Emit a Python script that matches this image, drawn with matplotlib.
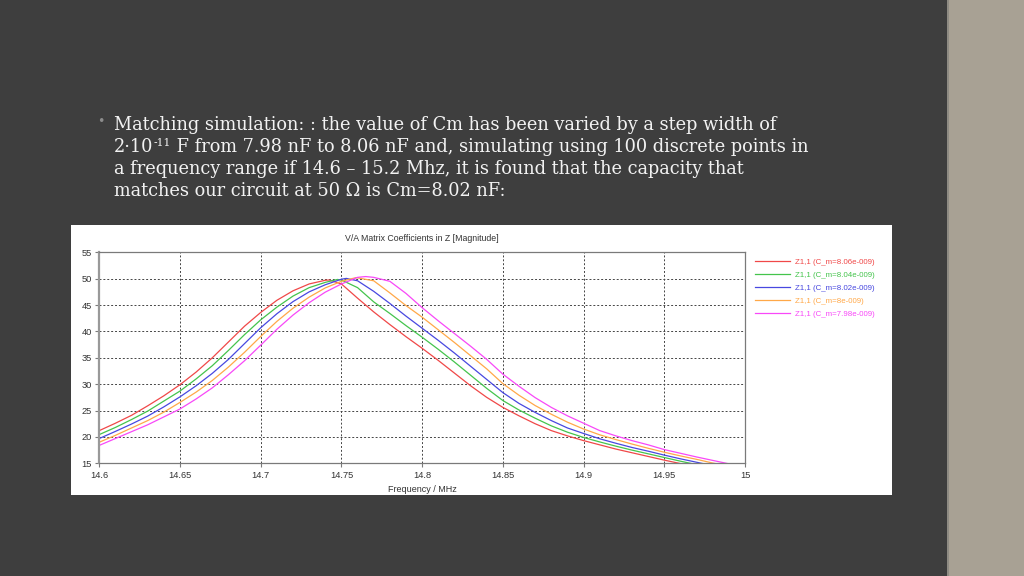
import numpy as np
import matplotlib.pyplot as plt
from matplotlib.patches import Rectangle

# frequency grid (MHz) the curves were read at
freq = [14.60, 14.61, 14.62, 14.63, 14.64, 14.65, 14.66, 14.67, 14.68, 14.69,
        14.70, 14.71, 14.72, 14.73, 14.74, 14.75, 14.76, 14.77, 14.78, 14.79,
        14.80, 14.81, 14.82, 14.83, 14.84, 14.85, 14.86, 14.87, 14.88, 14.89,
        14.90, 14.91, 14.92, 14.93, 14.94, 14.95, 14.96, 14.97, 14.98, 14.99, 15.00]

z_806 = [21.2, 22.6, 24.1, 25.9, 27.8, 29.9, 32.3, 35.0, 38.0, 41.0,
         43.6, 45.9, 47.7, 49.0, 49.7, 49.0, 46.3, 43.7, 41.3, 39.0,
         36.8, 34.5, 32.1, 29.7, 27.5, 25.6, 24.0, 22.5, 21.2, 20.2,
         19.3, 18.5, 17.7, 17.0, 16.3, 15.6, 14.95, 14.3, 13.8, 13.3, 12.8]
z_804 = [20.45, 21.8, 23.3, 24.9, 26.8, 28.7, 31.0, 33.5, 36.4, 39.4,
         42.2, 44.6, 46.7, 48.3, 49.3, 49.75, 48.3, 45.6, 43.4, 41.1,
         38.9, 36.6, 34.2, 31.7, 29.2, 26.9, 25.1, 23.55, 22.1, 20.9,
         19.9, 19.05, 18.25, 17.5, 16.8, 16.1, 15.4, 14.75, 14.15, 13.65, 13.15]
z_802 = [19.7, 21.05, 22.45, 23.95, 25.7, 27.6, 29.7, 32.05, 34.7, 37.7,
         40.7, 43.35, 45.65, 47.5, 48.85, 49.9, 49.6, 47.6, 45.3, 42.9,
         40.6, 38.3, 35.9, 33.4, 30.9, 28.4, 26.35, 24.65, 23.1, 21.7,
         20.65, 19.65, 18.8, 18.0, 17.3, 16.55, 15.85, 15.2, 14.55, 14.0, 13.5]
z_800 = [19.0, 20.3, 21.7, 23.1, 24.7, 26.55, 28.5, 30.7, 33.25, 36.05,
         39.05, 41.9, 44.4, 46.5, 48.25, 49.5, 50.15, 49.6, 47.3, 44.9,
         42.7, 40.3, 37.9, 35.4, 32.9, 30.1, 27.9, 25.95, 24.3, 22.8,
         21.5, 20.4, 19.5, 18.65, 17.85, 17.1, 16.4, 15.75, 15.05, 14.45, 13.9]
z_798 = [18.4, 19.7, 21.0, 22.3, 23.8, 25.3, 27.2, 29.3, 31.8, 34.45,
         37.4, 40.4, 43.1, 45.45, 47.45, 49.0, 50.25, 50.25, 49.5, 47.2,
         44.5, 42.0, 39.6, 37.2, 34.7, 31.9, 29.6, 27.45, 25.6, 24.0,
         22.6, 21.2, 20.2, 19.3, 18.5, 17.6, 16.9, 16.2, 15.55, 14.9, 14.3]

# resonance peaks (frequency, magnitude), one per curve
peak_f = [14.7425, 14.7475, 14.753, 14.759, 14.765]
peak_v = [49.75, 49.85, 50.05, 50.2, 50.4]

labels = ['Z1,1 (C_m=8.06e-009)', 'Z1,1 (C_m=8.04e-009)', 'Z1,1 (C_m=8.02e-009)',
          'Z1,1 (C_m=8e-009)', 'Z1,1 (C_m=7.98e-009)']
colors = ['#f04848', '#44c44c', '#4848e0', '#ffa848', '#f848f8']

xticks = [14.6, 14.65, 14.7, 14.75, 14.8, 14.85, 14.9, 14.95, 15.0]
xticklabels = ['14.6', '14.65', '14.7', '14.75', '14.8', '14.85', '14.9', '14.95', '15']
yticks = [15, 20, 25, 30, 35, 40, 45, 50, 55]

line1 = 'Matching simulation: : the value of Cm has been varied by a step width of'
line2_a = '2\u00b710'
line2_sup = '-11'
line2_b = ' F from 7.98 nF to 8.06 nF and, simulating using 100 discrete points in'
line3 = 'a frequency range if 14.6 \u2013 15.2 Mhz, it is found that the capacity that'
line4 = 'matches our circuit at 50 \u03a9 is Cm=8.02 nF:'

W, H = 1024, 576
fig = plt.figure(figsize=(W / 100, H / 100), dpi=100, facecolor='#3e3e3e')
renderer = fig.canvas.get_renderer()

# side strip of the slide
fig.add_artist(Rectangle((948 / W, 0), 1 - 948 / W, 1, transform=fig.transFigure,
                         facecolor='#a8a194', edgecolor='none', zorder=-2))
fig.add_artist(Rectangle((947 / W, 0), 1.5 / W, 1, transform=fig.transFigure,
                         facecolor='#8e8b83', edgecolor='none', zorder=-2))
# white chart background
fig.add_artist(Rectangle((71 / W, 1 - 495 / H), 821 / W, 270 / H, transform=fig.transFigure,
                         facecolor='white', edgecolor='none', zorder=-1))

# bullet text, sized so the first line spans the same width as the slide
serif = 'DejaVu Serif'
tc = '#f2f2f2'
x0 = 114
probe = fig.text(0, 0, line1, family=serif, fontsize=12)
fs = 12 * 661 / probe.get_window_extent(renderer).width
probe.remove()

fig.text(101 / W, 1 - 121.5 / H, '\u2022', color='#8c8c8c', fontsize=9,
         va='center', ha='center')
baselines = [129.5, 151.7, 173.9, 196.1]
fig.text(x0 / W, 1 - baselines[0] / H, line1, color=tc, fontsize=fs, family=serif, va='baseline')
t = fig.text(x0 / W, 1 - baselines[1] / H, line2_a, color=tc, fontsize=fs, family=serif, va='baseline')
xa = x0 + t.get_window_extent(renderer).width + 0.5
t = fig.text(xa / W, 1 - (baselines[1] - 6) / H, line2_sup, color=tc, fontsize=fs * 0.6,
             family=serif, va='baseline')
xb = xa + t.get_window_extent(renderer).width
fig.text(xb / W, 1 - baselines[1] / H, line2_b, color=tc, fontsize=fs, family=serif, va='baseline')
fig.text(x0 / W, 1 - baselines[2] / H, line3, color=tc, fontsize=fs, family=serif, va='baseline')
fig.text(x0 / W, 1 - baselines[3] / H, line4, color=tc, fontsize=fs, family=serif, va='baseline')

ax = fig.add_axes([99.3 / W, 1 - 463.3 / H, 645.7 / W, 211 / H])
ax.set_facecolor('white')

series = [z_806, z_804, z_802, z_800, z_798]
for vals, pf, pv, c, lab in zip(series, peak_f, peak_v, colors, labels):
    f = np.array(freq)
    v = np.array(vals)
    i = np.searchsorted(f, pf)
    f = np.insert(f, i, pf)
    v = np.insert(v, i, pv)
    ax.plot(f, v, color=c, lw=0.9, label=lab)

sans = 'Liberation Sans'
ax.set_xlim(14.6, 15.0)
ax.set_ylim(15, 55)
ax.set_xticks(xticks)
ax.set_xticklabels(xticklabels, family=sans)
ax.set_yticks(yticks)
ax.set_yticklabels([str(v) for v in yticks], family=sans)
ax.grid(True, color='#444444', linestyle=(0, (2, 2)), lw=0.7)
for s in ax.spines.values():
    s.set_color('#7a7a7a')
    s.set_linewidth(0.9)
ax.spines['left'].set_linewidth(1.6)
ax.spines['left'].set_color('#999999')
ax.tick_params(direction='out', length=3, width=0.8, color='#7a7a7a',
               labelsize=6.7, labelcolor='#333333', pad=2.5)

ax.set_title('V/A Matrix Coefficients in Z [Magnitude]', fontsize=6.3, family=sans,
             color='#333333', pad=8)
ax.set_xlabel('Frequency / MHz', fontsize=6.5, family=sans, color='#333333', labelpad=3.5)

leg = fig.legend(loc='upper left', bbox_to_anchor=(755 / W, 1 - 258 / H), frameon=False,
                 prop={'family': sans, 'size': 5.7}, handlelength=4.4, handletextpad=0.6,
                 labelspacing=0.7, borderpad=0, borderaxespad=0)
for t, c in zip(leg.get_texts(), colors):
    t.set_color(c)

fig.savefig('out.png', dpi=100, facecolor=fig.get_facecolor())
